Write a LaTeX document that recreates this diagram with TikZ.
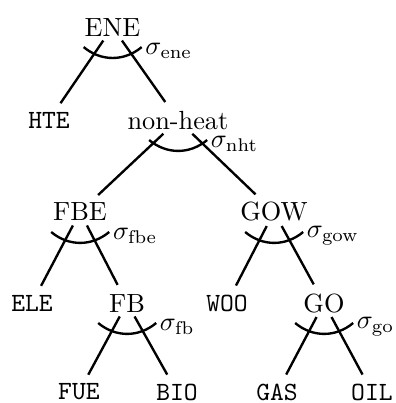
\documentclass[tikz,border=0pt]{standalone}
\usepackage{tikz}
\usetikzlibrary{calc}

\begin{document}
\begin{tikzpicture}[x=1cm, y=1cm,
  inode/.style={inner sep=1.5pt},
  leaf/.style={inner sep=1.5pt, font=\ttfamily},
  branch/.style={line width=0.9pt, shorten >=2pt},
  nest/.style={line width=0.9pt},
  siglab/.style={anchor=west, inner sep=1pt, yshift=-1.5pt}]
\useasboundingbox (0,0) rectangle (5.29,5.385);
% nests
\node[inode] (ENE) at (1.503,5.023) {ENE};
\node[inode] (NHT) at (2.378,3.781) {non-heat};
\node[inode] (FBE) at (1.069,2.552) {FBE};
\node[inode] (GOW) at (3.661,2.552) {GOW};
\node[inode] (FB) at (1.697,1.336) {FB};
\node[inode] (GO) at (4.329,1.336) {GO};
% leaves
\node[leaf] (HTE) at (0.655,3.781) {HTE};
\node[leaf] (ELE) at (0.428,1.336) {ELE};
\node[leaf] (WOO) at (3.033,1.336) {WOO};
\node[leaf] (FUE) at (1.055,0.147) {FUE};
\node[leaf] (BIO) at (2.365,0.147) {BIO};
\node[leaf] (GAS) at (3.701,0.147) {GAS};
\node[leaf] (OIL) at (4.970,0.147) {OIL};
% branches
\draw[branch] (ENE) -- (HTE);
\draw[branch] (ENE) -- (NHT);
\draw[branch] (NHT) -- (FBE);
\draw[branch] (NHT) -- (GOW);
\draw[branch] (FBE) -- (ELE);
\draw[branch] (FBE) -- (FB);
\draw[branch] (GOW) -- (WOO);
\draw[branch] (GOW) -- (GO);
\draw[branch] (FB) -- (FUE);
\draw[branch] (FB) -- (BIO);
\draw[branch] (GO) -- (GAS);
\draw[branch] (GO) -- (OIL);
% substitution elasticities
\draw[nest] ($(ENE)+(-0.385,-0.267)$) to[bend right=40] ($(ENE)+(0.39,-0.267)$)
  node[siglab] {$\sigma_{\mathrm{ene}}$};
\draw[nest] ($(NHT)+(-0.385,-0.267)$) to[bend right=40] ($(NHT)+(0.39,-0.267)$)
  node[siglab] {$\sigma_{\mathrm{nht}}$};
\draw[nest] ($(FBE)+(-0.385,-0.267)$) to[bend right=40] ($(FBE)+(0.39,-0.267)$)
  node[siglab] {$\sigma_{\mathrm{fbe}}$};
\draw[nest] ($(GOW)+(-0.385,-0.267)$) to[bend right=40] ($(GOW)+(0.39,-0.267)$)
  node[siglab] {$\sigma_{\mathrm{gow}}$};
\draw[nest] ($(FB)+(-0.385,-0.267)$) to[bend right=40] ($(FB)+(0.39,-0.267)$)
  node[siglab] {$\sigma_{\mathrm{fb}}$};
\draw[nest] ($(GO)+(-0.385,-0.267)$) to[bend right=40] ($(GO)+(0.39,-0.267)$)
  node[siglab] {$\sigma_{\mathrm{go}}$};
\end{tikzpicture}
\end{document}
